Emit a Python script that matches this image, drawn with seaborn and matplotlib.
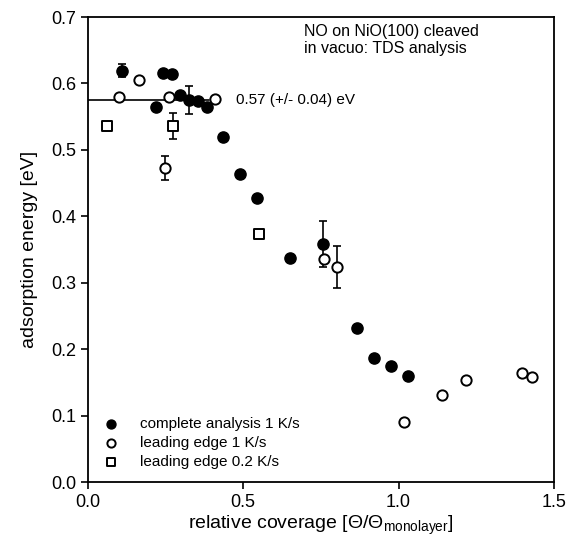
import numpy as np
import pandas as pd
import matplotlib
matplotlib.use("Agg")
import matplotlib.pyplot as plt
import seaborn as sns

# complete analysis 1 K/s (filled circles)
full_x = [0.109, 0.221, 0.242, 0.272, 0.298, 0.326, 0.354, 0.382, 0.434, 0.489, 0.543, 0.650, 0.758, 0.867, 0.920, 0.974, 1.029]
full_y = [0.619, 0.564, 0.615, 0.614, 0.582, 0.575, 0.573, 0.564, 0.519, 0.464, 0.4275, 0.337, 0.358, 0.232, 0.187, 0.174, 0.160]
full_err = [0.010, 0, 0, 0, 0, 0.021, 0, 0, 0, 0, 0, 0, 0.035, 0, 0, 0, 0]

# leading edge 1 K/s (open circles)
le1_x = [0.101, 0.166, 0.247, 0.262, 0.409, 0.760, 0.802, 1.016, 1.140, 1.218, 1.398, 1.428]
le1_y = [0.579, 0.605, 0.473, 0.579, 0.577, 0.336, 0.324, 0.090, 0.1305, 0.153, 0.1645, 0.158]
le1_err = [0, 0, 0.018, 0, 0, 0, 0.032, 0, 0, 0, 0, 0]

# leading edge 0.2 K/s (open squares)
le02_x = [0.062, 0.275, 0.550]
le02_y = [0.536, 0.536, 0.373]
le02_err = [0, 0.020, 0]

mean_level = 0.5755
mean_x = [0.0, 0.39]

labels = ["complete analysis 1 K/s", "leading edge 1 K/s", "leading edge 0.2 K/s"]

sns.set_theme(style="ticks")
plt.rcParams['font.family'] = ['Liberation Sans', 'DejaVu Sans']
plt.rcParams['mathtext.fontset'] = 'custom'
plt.rcParams['mathtext.rm'] = 'Liberation Sans'
for k in ['text.color', 'axes.labelcolor', 'xtick.color', 'ytick.color', 'axes.edgecolor']:
    plt.rcParams[k] = 'black'

fig = plt.figure(figsize=(5.7, 5.4), dpi=100)
ax = fig.add_axes([0.154, 0.1074, 0.818, 0.8611])

# error bars
for xs, ys, es in [(full_x, full_y, full_err), (le1_x, le1_y, le1_err), (le02_x, le02_y, le02_err)]:
    xe = [x for x, e in zip(xs, es) if e > 0]
    ye = [y for y, e in zip(ys, es) if e > 0]
    ee = [e for e in es if e > 0]
    ax.errorbar(xe, ye, yerr=ee, fmt='none', ecolor='black', elinewidth=1.2,
                capsize=3.2, capthick=1.2, zorder=1)

ax.plot(mean_x, [mean_level, mean_level], color='black', lw=1.2, zorder=1)

df_full = pd.DataFrame({"x": full_x, "y": full_y})
df_le1 = pd.DataFrame({"x": le1_x, "y": le1_y})
df_le02 = pd.DataFrame({"x": le02_x, "y": le02_y})

sns.scatterplot(data=df_full, x="x", y="y", ax=ax, marker='o', s=65,
                color='black', edgecolor='black', linewidth=1.0, zorder=3, label=labels[0])
sns.scatterplot(data=df_le1, x="x", y="y", ax=ax, marker='o', s=55,
                color='white', edgecolor='black', linewidth=1.4, zorder=3, label=labels[1])
sns.scatterplot(data=df_le02, x="x", y="y", ax=ax, marker='s', s=45,
                color='white', edgecolor='black', linewidth=1.4, zorder=3, label=labels[2])

ax.set_xlim(0, 1.5)
ax.set_ylim(0, 0.7)
ax.set_xticks([0.0, 0.5, 1.0, 1.5])
ax.set_yticks(np.arange(0, 0.71, 0.1))
ax.xaxis.set_major_formatter(matplotlib.ticker.FormatStrFormatter('%.1f'))
ax.yaxis.set_major_formatter(matplotlib.ticker.FormatStrFormatter('%.1f'))
ax.tick_params(direction='out', length=5, width=1.2, labelsize=13, colors='black')
for sp in ax.spines.values():
    sp.set_visible(True)
    sp.set_linewidth(1.3)
    sp.set_color('black')

ax.set_xlabel(r"relative coverage [Θ/Θ$_{\mathregular{monolayer}}$]", fontsize=14, labelpad=2)
ax.set_ylabel("adsorption energy [eV]", fontsize=14, labelpad=9)

ax.text(0.463, 0.985, "NO on NiO(100) cleaved\nin vacuo: TDS analysis", transform=ax.transAxes,
        fontsize=11.5, va='top', ha='left', linespacing=1.15)
ax.text(0.476, mean_level, "0.57 (+/- 0.04) eV", fontsize=11, va='center', ha='left')

ax.legend(loc='lower left', bbox_to_anchor=(0.003, 0.006), frameon=False, fontsize=11,
          handletextpad=1.1, labelspacing=0.3, borderaxespad=0.3, handlelength=1.5,
          markerscale=0.8)

fig.savefig("out.png", dpi=100)
